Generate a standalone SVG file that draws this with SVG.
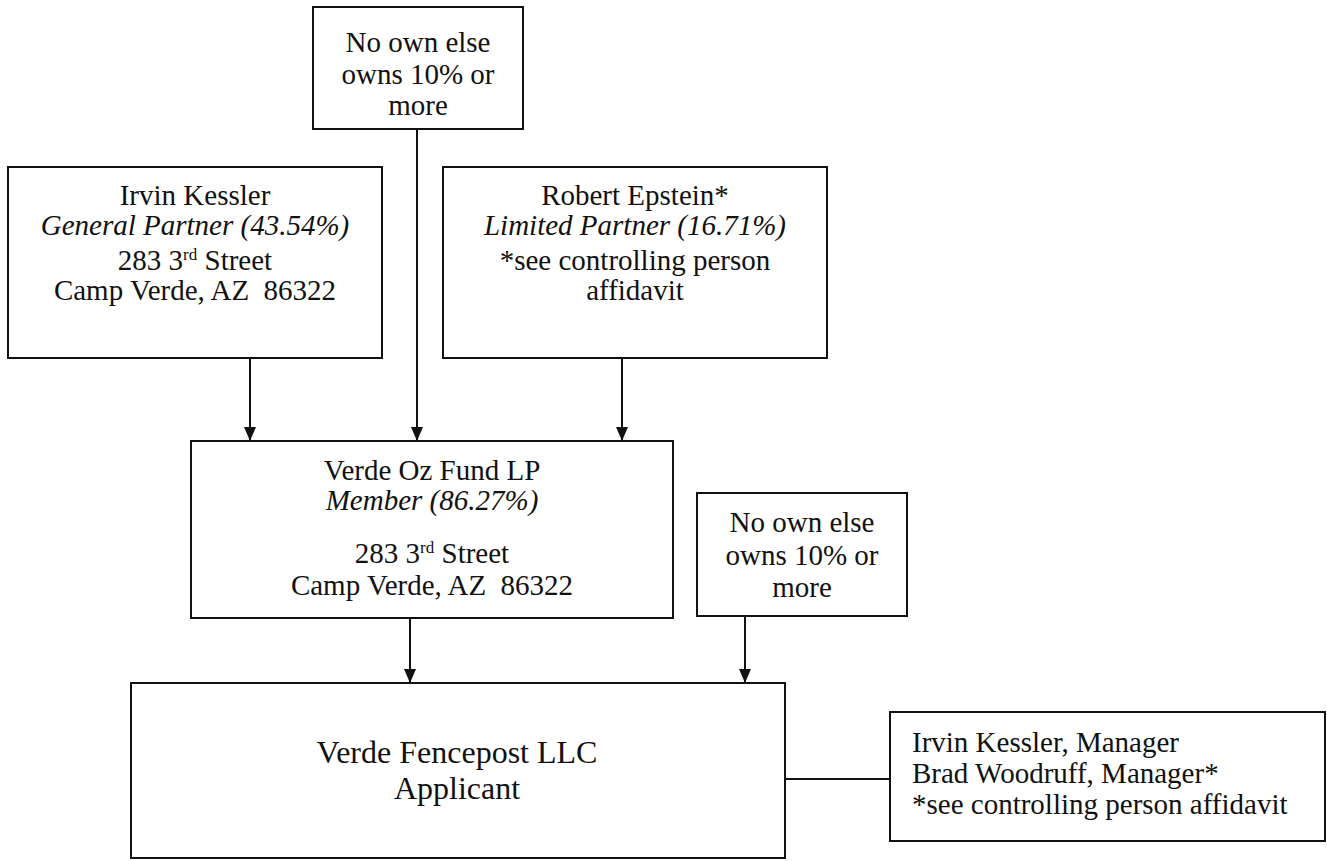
<svg xmlns="http://www.w3.org/2000/svg" width="1327" height="861" viewBox="0 0 1327 861" font-family="'Liberation Serif', 'Times New Roman', serif">
<defs>
<marker id="arr" viewBox="0 0 14 12" refX="14" refY="6" markerWidth="14" markerHeight="12" markerUnits="userSpaceOnUse" orient="auto">
<path d="M0,0 L14,6 L0,12 Z" fill="#111"/>
</marker>
<style>
.box{fill:#fff;stroke:#111;stroke-width:2}
.t{font-family:"Liberation Serif","Times New Roman",serif;font-size:29px;fill:#111;text-anchor:middle}
.i{font-style:italic}
.l{text-anchor:start}
.big{font-size:32px}
.sup{font-size:17px}
.c{stroke:#111;stroke-width:2;fill:none}
</style>
</defs>
<rect width="1327" height="861" fill="#fff"/>
<g id="connectors">
<line class="c" x1="417" y1="129" x2="417" y2="441" marker-end="url(#arr)"/>
<line class="c" x1="250" y1="358" x2="250" y2="441" marker-end="url(#arr)"/>
<line class="c" x1="622" y1="358" x2="622" y2="441" marker-end="url(#arr)"/>
<line class="c" x1="410" y1="618" x2="410" y2="683" marker-end="url(#arr)"/>
<line class="c" x1="745" y1="616" x2="745" y2="683" marker-end="url(#arr)"/>
<line class="c" x1="785" y1="779" x2="890" y2="779"/>
</g>
<g id="owners-top">
<rect class="box" x="313" y="7" width="210" height="122"/>
<text class="t" x="418" y="52">No own else</text>
<text class="t" x="418" y="84">owns 10% or</text>
<text class="t" x="418" y="115">more</text>
</g>
<g id="irvin-kessler">
<rect class="box" x="8" y="167" width="374" height="191"/>
<text class="t" x="195" y="205">Irvin Kessler</text>
<text class="t i" x="195" y="235">General Partner (43.54%)</text>
<text class="t" x="195" y="270">283 3<tspan class="sup" dy="-10">rd</tspan><tspan dy="10"> Street</tspan></text>
<text class="t" x="195" y="300">Camp Verde, AZ&#160; 86322</text>
</g>
<g id="robert-epstein">
<rect class="box" x="443" y="167" width="384" height="191"/>
<text class="t" x="635" y="205">Robert Epstein*</text>
<text class="t i" x="635" y="235">Limited Partner (16.71%)</text>
<text class="t" x="635" y="270">*see controlling person</text>
<text class="t" x="635" y="300">affidavit</text>
</g>
<g id="verde-oz-fund">
<rect class="box" x="191" y="441" width="482" height="177"/>
<text class="t" x="432" y="480">Verde Oz Fund LP</text>
<text class="t i" x="432" y="510">Member (86.27%)</text>
<text class="t" x="432" y="563">283 3<tspan class="sup" dy="-10">rd</tspan><tspan dy="10"> Street</tspan></text>
<text class="t" x="432" y="595">Camp Verde, AZ&#160; 86322</text>
</g>
<g id="owners-fencepost">
<rect class="box" x="697" y="493" width="210" height="123"/>
<text class="t" x="802" y="532">No own else</text>
<text class="t" x="802" y="565">owns 10% or</text>
<text class="t" x="802" y="597">more</text>
</g>
<g id="verde-fencepost">
<rect class="box" x="131" y="683" width="654" height="175"/>
<text class="t big" x="457" y="763">Verde Fencepost LLC</text>
<text class="t big" x="457" y="799">Applicant</text>
</g>
<g id="managers">
<rect class="box" x="890" y="712" width="435" height="129"/>
<text class="t l" x="912" y="752">Irvin Kessler, Manager</text>
<text class="t l" x="912" y="783">Brad Woodruff, Manager*</text>
<text class="t l" x="912" y="814">*see controlling person affidavit</text>
</g>
</svg>
